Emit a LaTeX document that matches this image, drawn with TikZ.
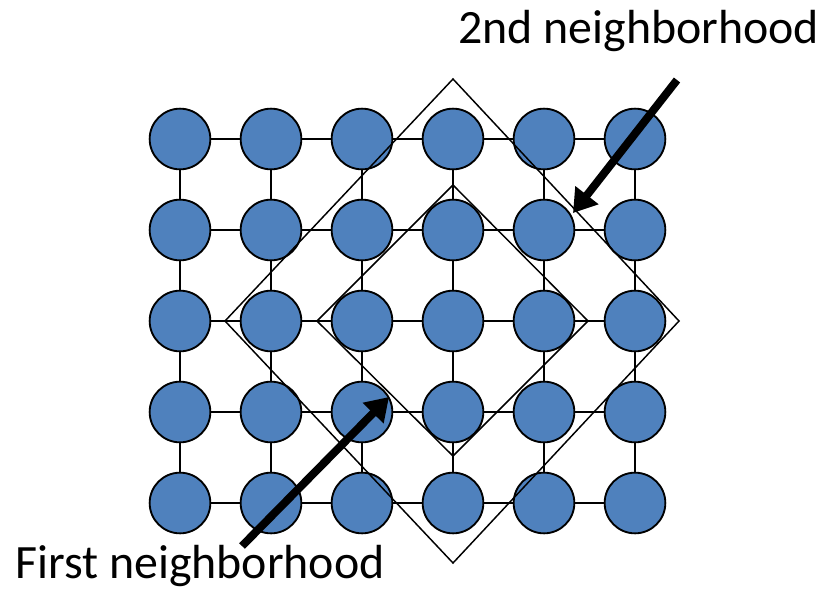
\documentclass[tikz,border=0pt]{standalone}
\usepackage{fontspec}
\setmainfont{Carlito}
\usepackage{tikz}
\usetikzlibrary{positioning,arrows.meta}
\definecolor{siteblue}{RGB}{79,129,189}

\begin{document}
\begin{tikzpicture}[
    x=0.75pt,
    y=-0.75pt,
    >={Triangle[length=17pt,width=21pt]},
    site/.style={
        circle,
        draw,
        line width=1.4pt,
        fill=siteblue,
        minimum size=45.5pt,
        inner sep=0pt
    },
    bond/.style={
        line width=1.4pt
    },
    hood/.style={
        line width=1.1pt
    },
    pointer/.style={
        ->,
        line width=6pt
    },
    caption/.style={
        font=\fontsize{35.9}{42}\selectfont,
        inner sep=0pt
    }
]

\useasboundingbox (0,0) rectangle (836,593);

% ============================================================
% LATTICE SITES
% ============================================================

\foreach \i in {0,...,5} {
    \foreach \j in {0,...,4} {
        \node[site] (s\i\j) at (180+91*\i,139+91*\j) {};
    }
}

% ============================================================
% BONDS
% ============================================================

\foreach \i in {0,...,4} {
    \foreach \j in {0,...,4} {
        \pgfmathtruncatemacro{\k}{\i+1}
        \draw[bond] (s\i\j) -- (s\k\j);
    }
}
\foreach \i in {0,...,5} {
    \foreach \j in {0,...,3} {
        \pgfmathtruncatemacro{\k}{\j+1}
        \draw[bond] (s\i\j) -- (s\i\k);
    }
}

% ============================================================
% NEIGHBORHOODS
% ============================================================

% first neighborhood
\coordinate (in-n) at (453,185);
\coordinate (in-e) at (588,321);
\coordinate (in-s) at (453,456);
\coordinate (in-w) at (317,321);

\draw[hood] (in-n) -- (in-e) -- (in-s) -- (in-w) -- cycle;

% second neighborhood
\coordinate (out-n) at (453,79);
\coordinate (out-e) at (679,321);
\coordinate (out-s) at (453,563);
\coordinate (out-w) at (225,321);

\draw[hood] (out-n) -- (out-e) -- (out-s) -- (out-w) -- cycle;

% ============================================================
% LABELS
% ============================================================

\node[caption, anchor=base west] (second) at (458,43)
{2nd neighborhood};

\node[caption, anchor=base west] (first) at (15,578)
{First neighborhood};

\coordinate (second-tail) at (677,80);
\coordinate (second-tip)  at (573,213);
\coordinate (first-tail)  at (242,546);
\coordinate (first-tip)   at (389,397);

\draw[pointer] (second-tail) -- (second-tip);
\draw[pointer] (first-tail) -- (first-tip);

\end{tikzpicture}
\end{document}
